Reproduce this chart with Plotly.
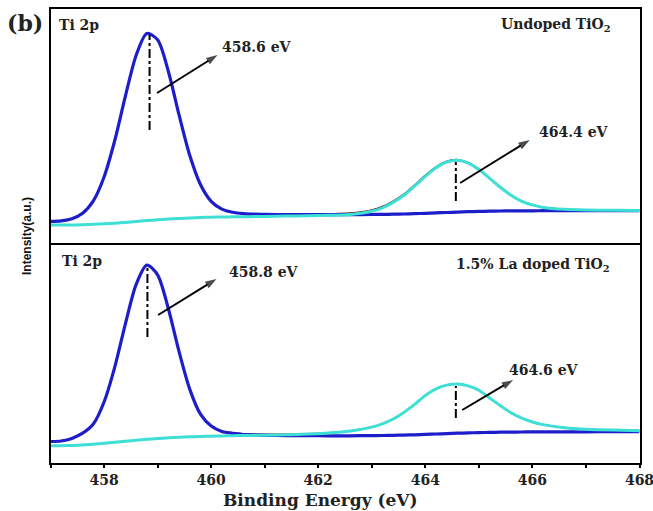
import plotly.graph_objects as go

# ---------------- data ----------------
energy = [457.0, 457.2, 457.4, 457.6, 457.8, 458.0, 458.2, 458.4, 458.6, 458.8,
          459.0, 459.2, 459.4, 459.6, 459.8, 460.0, 460.2, 460.4, 460.6, 460.8,
          461.0, 461.4, 461.8, 462.2, 462.6, 463.0, 463.2, 463.4, 463.6, 463.8,
          464.0, 464.2, 464.4, 464.6, 464.8, 465.0, 465.2, 465.4, 465.6, 465.8,
          466.0, 466.2, 466.6, 467.0, 467.5, 468.0]

# Undoped TiO2 (top panel)
ti2p32_undoped = [21.6, 22.2, 24.3, 29.8, 42.1, 66.0, 102.5, 147.1, 187.8, 209.5,
                  203.2, 171.8, 128.3, 87.7, 58.5, 41.7, 33.9, 30.7, 29.4, 28.9,
                  28.7, 28.4, 28.3, 28.3, 28.3, 28.5, 28.6, 28.8, 29.0, 29.3,
                  29.7, 30.1, 30.5, 30.9, 31.3, 31.6, 31.8, 32.0, 32.1, 32.2,
                  32.2, 32.3, 32.3, 32.3, 32.4, 32.4]
ti2p12_undoped = [18.0, 18.0, 18.0, 18.3, 18.7, 19.2, 19.8, 20.6, 21.5, 22.4,
                  23.2, 24.0, 24.6, 25.1, 25.5, 25.8, 26.0, 26.2, 26.3, 26.4,
                  26.6, 26.9, 27.2, 27.7, 28.6, 31.7, 35.2, 40.6, 47.7, 56.9,
                  66.7, 75.3, 81.0, 82.7, 79.9, 73.4, 64.7, 55.7, 47.8, 41.7,
                  38.1, 35.6, 33.7, 33.0, 32.7, 32.5]
background_undoped = [18.0, 18.0, 18.0, 18.3, 18.7, 19.2, 19.8, 20.6, 21.5, 22.4,
                      23.2, 24.0, 24.6, 25.1, 25.5, 25.8, 26.0, 26.2, 26.3, 26.4,
                      26.5, 26.6, 26.7, 26.8, 27.0, 27.2, 27.4, 27.6, 27.9, 28.3,
                      28.8, 29.3, 29.8, 30.3, 30.8, 31.2, 31.5, 31.7, 31.9, 32.0,
                      32.1, 32.1, 32.2, 32.2, 32.3, 32.3]

# 1.5% La doped TiO2 (bottom panel)
ti2p32_doped = [21.5, 22.0, 24.6, 29.8, 39.0, 61.0, 95.9, 139.4, 178.6, 197.8,
                188.1, 154.5, 111.6, 73.9, 48.8, 36.9, 31.5, 29.6, 28.5, 28.0,
                27.7, 27.4, 27.3, 27.2, 27.2, 27.4, 27.5, 27.7, 27.9, 28.2,
                28.6, 29.0, 29.4, 29.8, 30.1, 30.4, 30.6, 30.8, 30.9, 31.0,
                31.1, 31.1, 31.2, 31.2, 31.3, 31.3]
ti2p12_doped = [17.2, 17.3, 17.6, 18.1, 18.8, 19.7, 20.7, 21.7, 22.7, 23.7,
                24.5, 25.2, 25.7, 26.2, 26.5, 26.8, 27.1, 27.3, 27.5, 27.7,
                27.8, 28.3, 29.0, 30.0, 31.9, 35.9, 39.2, 44.0, 50.6, 58.6,
                67.5, 74.1, 77.9, 79.1, 77.1, 72.8, 65.0, 57.3, 50.2, 44.8,
                41.0, 38.4, 35.3, 33.8, 32.9, 32.3]
background_doped = [17.0, 17.1, 17.4, 17.9, 18.6, 19.5, 20.5, 21.5, 22.5, 23.4,
                    24.2, 24.9, 25.4, 25.8, 26.1, 26.3, 26.5, 26.6, 26.7, 26.8,
                    26.8, 26.9, 27.0, 27.0, 27.1, 27.3, 27.4, 27.6, 27.8, 28.1,
                    28.5, 28.9, 29.3, 29.7, 30.0, 30.3, 30.5, 30.7, 30.8, 30.9,
                    31.0, 31.0, 31.1, 31.1, 31.2, 31.2]

peak_pos_undoped = [458.85, 464.57]
peak_pos_doped = [458.81, 464.57]
peak_labels_undoped = ["458.6 eV", "464.4 eV"]
peak_labels_doped = ["458.8 eV", "464.6 eV"]
sample_labels = ["Undoped TiO<sub>2</sub>", "1.5% La doped TiO<sub>2</sub>"]
tick_values = [458, 460, 462, 464, 466, 468]
tick_labels = ["458", "460", "462", "464", "466", "468"]
minor_tick_values = [457, 459, 461, 463, 465, 467]

# ---------------- figure ----------------
W, H = 653, 511
BLUE = "#1d1dc9"
CYAN = "#3ee0d6"
SERIF = "DejaVu Serif"
TXT = "#222222"


def py(p):
    return (H - p) / H


x_dom = [50.5 / W, 639.5 / W]
top_dom = [py(243), py(9)]
bot_dom = [py(463), py(245)]

fig = go.Figure()


def add_panel(blue, cyan, bg, xa, ya):
    env = [b + c - g for b, c, g in zip(blue, cyan, bg)]
    fig.add_trace(go.Scatter(x=energy, y=env, mode="lines", xaxis=xa, yaxis=ya,
                             line=dict(color="#5a1010", width=1.6, shape="spline", smoothing=0.8),
                             showlegend=False, hoverinfo="skip"))
    fig.add_trace(go.Scatter(x=energy, y=blue, mode="lines", xaxis=xa, yaxis=ya,
                             line=dict(color=BLUE, width=3.2, shape="spline", smoothing=0.8),
                             showlegend=False))
    fig.add_trace(go.Scatter(x=energy, y=cyan, mode="lines", xaxis=xa, yaxis=ya,
                             line=dict(color=CYAN, width=3.0, shape="spline", smoothing=0.8),
                             showlegend=False))


add_panel(ti2p32_undoped, ti2p12_undoped, background_undoped, "x2", "y2")
add_panel(ti2p32_doped, ti2p12_doped, background_doped, "x", "y")

# arrows (tail -> head) drawn as line + arrow marker
arrows_top = [((458.99, 150), (460.12, 188)), ((464.65, 60), (465.95, 103))]
arrows_bot = [((459.01, 148), (460.10, 184)), ((464.69, 53), (465.64, 83))]


def add_arrow(t, h, xa, ya):
    fig.add_trace(go.Scatter(x=[t[0], h[0]], y=[t[1], h[1]], mode="lines+markers",
                             xaxis=xa, yaxis=ya,
                             line=dict(color="black", width=2),
                             marker=dict(symbol="arrow", size=[0, 12], angleref="previous",
                                         color="black", line=dict(width=0)),
                             showlegend=False, hoverinfo="skip"))


for t, h in arrows_top:
    add_arrow(t, h, "x2", "y2")
for t, h in arrows_bot:
    add_arrow(t, h, "x", "y")

axis_common = dict(showline=True, linecolor="black", linewidth=2, mirror=True,
                   showgrid=False, zeroline=False, automargin=False)

fig.update_layout(
    width=W, height=H,
    margin=dict(l=0, r=0, t=0, b=0),
    paper_bgcolor="white", plot_bgcolor="white",
    showlegend=False,
    xaxis=dict(domain=x_dom, anchor="y", range=[457, 468],
               tickmode="array", tickvals=tick_values, ticktext=tick_labels,
               ticks="outside", ticklen=3, tickwidth=2, tickcolor="black",
               ticklabeloverflow="allow",
               minor=dict(tickmode="array", tickvals=minor_tick_values, ticks="outside",
                          ticklen=3, tickwidth=2, tickcolor="black", showgrid=False),
               tickfont=dict(family=SERIF, size=14, color=TXT, weight="bold"),
               **axis_common),
    yaxis=dict(domain=bot_dom, anchor="x", range=[0, 218], showticklabels=False,
               ticks="", **axis_common),
    xaxis2=dict(domain=x_dom, anchor="y2", range=[457, 468], matches="x",
                showticklabels=False, ticks="", **axis_common),
    yaxis2=dict(domain=top_dom, anchor="x2", range=[0, 234], showticklabels=False,
                ticks="", **axis_common),
)

shapes = []
ann = []

# dash-dot peak markers
for xp, (y0, y1) in zip(peak_pos_undoped, [(113, 208), (42, 81)]):
    shapes.append(dict(type="line", xref="x2", yref="y2", x0=xp, x1=xp, y0=y0, y1=y1,
                       line=dict(color="black", width=2, dash="dashdot")))
for xp, (y0, y1) in zip(peak_pos_doped, [(126, 195), (45, 77)]):
    shapes.append(dict(type="line", xref="x", yref="y", x0=xp, x1=xp, y0=y0, y1=y1,
                       line=dict(color="black", width=2, dash="dashdot")))

lab_font = dict(family=SERIF, size=14, color=TXT, weight="bold")
# peak energy labels
for txt, (xx, yy) in zip(peak_labels_undoped, [(460.17, 196), (466.08, 111)]):
    ann.append(dict(x=xx, y=yy, xref="x2", yref="y2", text=txt, showarrow=False,
                    xanchor="left", yanchor="middle", font=lab_font))
for txt, (xx, yy) in zip(peak_labels_doped, [(460.3, 191), (465.53, 93)]):
    ann.append(dict(x=xx, y=yy, xref="x", yref="y", text=txt, showarrow=False,
                    xanchor="left", yanchor="middle", font=lab_font))

# panel labels
ann.append(dict(x=57 / W, y=py(25), xref="paper", yref="paper", text="Ti 2p",
                showarrow=False, xanchor="left", yanchor="middle", font=lab_font))
ann.append(dict(x=60 / W, y=py(261), xref="paper", yref="paper", text="Ti 2p",
                showarrow=False, xanchor="left", yanchor="middle", font=lab_font))
ann.append(dict(x=613 / W, y=py(25), xref="paper", yref="paper", text=sample_labels[0],
                showarrow=False, xanchor="right", yanchor="middle", font=lab_font))
ann.append(dict(x=612 / W, y=py(265), xref="paper", yref="paper", text=sample_labels[1],
                showarrow=False, xanchor="right", yanchor="middle", font=lab_font))

# (b)
ann.append(dict(x=25 / W, y=py(23), xref="paper", yref="paper", text="(b)",
                showarrow=False, xanchor="center", yanchor="middle",
                font=dict(family=SERIF, size=22, color=TXT, weight="bold")))

# axis titles
ann.append(dict(x=320 / W, y=py(499.5), xref="paper", yref="paper",
                text="Binding Energy (eV)", showarrow=False,
                xanchor="center", yanchor="middle",
                font=dict(family=SERIF, size=17, color=TXT, weight="bold")))
ann.append(dict(x=27 / W, y=py(236), xref="paper", yref="paper",
                text="Intensity(a.u.)", showarrow=False, textangle=-90,
                xanchor="center", yanchor="middle",
                font=dict(family="Liberation Sans, Arial, sans-serif",
                          size=12, color="#111", weight="bold")))

fig.update_layout(shapes=shapes, annotations=ann)
fig.write_html("out.html")
